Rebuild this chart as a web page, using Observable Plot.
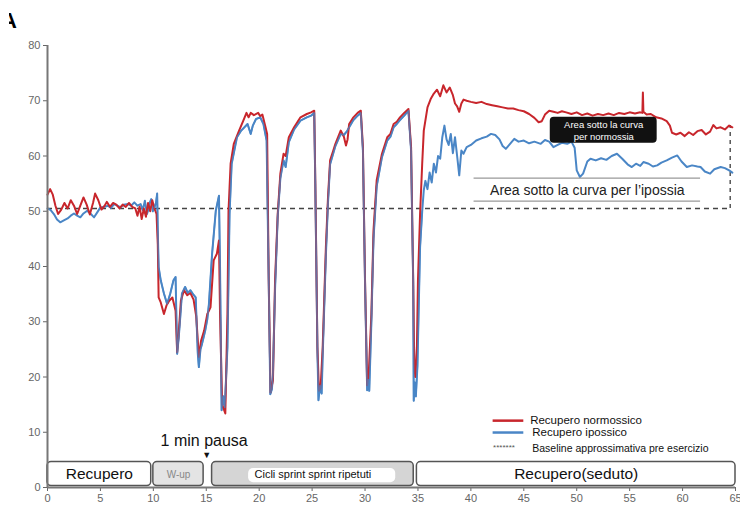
<!DOCTYPE html>
<html>
<head>
<meta charset="utf-8">
<script src="https://cdn.jsdelivr.net/npm/d3@7"></script>
<script src="https://cdn.jsdelivr.net/npm/@observablehq/plot@0.6"></script>
<style>
  html, body { margin: 0; padding: 0; background: #fff; overflow: hidden; }
  #wrap { position: relative; width: 740px; height: 508px; }
  #clip { position: absolute; left: 9px; top: 10px; width: 14px; height: 24px; overflow: hidden; z-index: 2; }
  #letter { position: absolute; left: -8px; top: 0px; font: bold 22px "Liberation Sans", Arial, sans-serif; color: #000; line-height: 22px; }
</style>
</head>
<body>
<div id="wrap"><div id="clip"><div id="letter">A</div></div></div>
<script>
// ---- data: [minute, value] ----
const normossico = [
  [0,53.0],[0.25,54.0],[0.5,53.0],[0.75,51.0],[1.0,49.5],[1.3,50.3],[1.6,51.5],[1.9,50.5],[2.2,52.0],[2.5,51.0],
  [2.8,49.5],[3.1,51.0],[3.4,52.5],[3.7,51.2],[4.0,49.4],[4.3,51.5],[4.5,53.2],[4.8,52.0],[5.1,50.3],[5.4,51.0],
  [5.6,51.7],[5.9,50.8],[6.2,51.5],[6.5,51.2],[6.8,50.5],[7.1,51.2],[7.4,50.8],[7.7,51.5],[8.0,50.8],[8.3,50.5],
  [8.5,49.2],[8.7,50.8],[8.9,48.6],[9.1,50.5],[9.3,49.0],[9.5,51.5],[9.7,50.0],[9.9,52.0],[10.1,50.5],[10.3,49.5],
  [10.42,44.0],[10.5,34.4],[10.7,33.5],[11.0,31.4],[11.25,33.0],[11.5,33.8],[11.8,34.4],[12.1,32.0],[12.25,24.5],[12.4,28.0],
  [12.6,33.8],[12.9,35.7],[13.2,34.8],[13.5,35.2],[13.8,34.0],[14.05,31.0],[14.3,23.6],[14.5,26.5],[14.8,28.4],[15.1,31.4],
  [15.4,32.6],[15.7,41.1],[16.0,42.3],[16.2,44.7],[16.3,31.4],[16.5,15.0],[16.8,13.4],[17.0,31.4],[17.1,50.0],[17.3,58.6],
  [17.6,62.2],[18.1,64.6],[18.5,66.4],[18.8,67.8],[19.0,67.0],[19.2,67.8],[19.5,67.4],[19.9,67.8],[20.1,67.2],[20.3,67.5],
  [20.6,65.2],[20.75,64.0],[20.9,37.5],[21.07,17.2],[21.3,19.4],[21.5,37.5],[21.75,49.5],[22.0,56.8],[22.3,60.4],[22.5,60.0],
  [22.8,63.4],[23.3,65.2],[23.9,67.0],[24.5,67.6],[24.9,67.9],[25.2,68.2],[25.3,55.6],[25.5,25.4],[25.65,17.5],[25.8,18.0],
  [26.0,25.4],[26.3,43.5],[26.5,52.5],[26.7,59.2],[27.0,61.0],[27.2,62.2],[27.7,64.6],[28.0,63.5],[28.2,61.9],[28.35,63.0],
  [28.5,65.8],[28.9,67.0],[29.3,67.8],[29.6,68.2],[29.8,61.6],[30.0,37.5],[30.2,18.5],[30.35,20.6],[30.6,31.4],[30.8,46.5],
  [31.1,55.6],[31.6,60.4],[32.1,63.4],[32.4,64.0],[32.7,65.8],[33.0,66.2],[33.3,67.0],[33.7,67.8],[34.1,68.5],[34.35,61.6],
  [34.55,37.5],[34.65,22.4],[34.75,20.0],[34.9,25.4],[35.0,37.5],[35.2,49.5],[35.4,58.6],[35.55,64.6],[35.9,68.8],[36.2,70.3],
  [36.5,71.3],[36.8,72.0],[37.1,70.8],[37.4,72.8],[37.7,71.5],[38.0,72.4],[38.3,71.0],[38.5,69.5],[38.7,69.0],[38.9,68.0],
  [39.1,69.5],[39.3,70.2],[39.6,70.0],[40.0,69.8],[40.5,69.6],[41.0,69.8],[41.5,69.4],[42.0,69.2],[42.5,69.0],[43.0,68.8],
  [43.5,68.6],[44.0,68.6],[44.5,68.3],[45.0,68.1],[45.5,67.6],[46.0,66.9],[46.4,66.1],[46.7,66.3],[47.0,67.5],[47.4,68.2],
  [47.8,68.0],[48.2,67.8],[48.6,68.1],[49.0,67.9],[49.5,67.6],[50.0,67.9],[50.5,67.4],[51.0,67.7],[51.5,67.3],[52.0,67.6],
  [52.5,67.4],[53.0,67.7],[53.5,67.4],[54.0,67.8],[54.5,67.6],[55.0,67.9],[55.5,67.7],[56.0,67.9],[56.2,67.8],[56.25,71.5],
  [56.3,68.0],[56.6,67.5],[57.0,67.6],[57.5,67.0],[58.0,66.8],[58.5,66.3],[58.8,65.5],[59.0,64.2],[59.4,63.9],[59.8,64.2],
  [60.2,63.6],[60.6,64.3],[61.0,63.8],[61.4,64.5],[61.8,64.7],[62.2,63.9],[62.6,64.4],[62.9,65.6],[63.2,65.0],[63.6,65.2],
  [64.0,64.8],[64.4,65.5],[64.7,65.2]
];
const ipossico = [
  [0,50.5],[0.3,50.2],[0.6,49.5],[0.9,48.5],[1.2,48.0],[1.5,48.3],[1.9,48.7],[2.2,49.2],[2.5,49.6],[2.8,49.2],
  [3.1,48.9],[3.4,49.6],[3.75,50.1],[4.1,49.5],[4.4,48.9],[4.7,49.8],[5.0,50.7],[5.4,50.8],[5.7,51.0],[6.0,50.6],
  [6.3,51.3],[6.6,51.0],[6.9,50.7],[7.2,51.2],[7.6,51.3],[7.9,51.0],[8.2,51.6],[8.5,51.0],[8.8,51.3],[9.0,50.2],
  [9.2,51.9],[9.4,49.5],[9.5,50.1],[9.65,51.5],[9.8,52.2],[9.95,50.0],[10.1,50.7],[10.25,51.5],[10.36,53.2],[10.42,46.5],
  [10.5,39.9],[10.7,37.5],[11.0,35.1],[11.3,33.2],[11.6,35.1],[11.9,37.5],[12.1,38.1],[12.25,24.2],[12.4,27.2],[12.55,31.0],
  [12.7,35.1],[13.0,36.3],[13.25,35.2],[13.5,35.7],[13.75,35.0],[14.0,34.4],[14.2,24.2],[14.3,21.8],[14.45,25.0],[14.6,26.0],
  [14.75,27.2],[14.9,28.4],[15.1,30.5],[15.25,33.2],[15.55,42.3],[15.9,50.1],[16.2,52.8],[16.3,40.0],[16.45,14.0],[16.6,16.5],
  [16.75,14.5],[17.0,25.4],[17.2,49.5],[17.4,58.6],[17.9,63.4],[18.3,64.6],[18.9,65.8],[19.2,64.0],[19.4,65.5],[19.7,66.7],
  [20.1,67.0],[20.4,65.8],[20.7,62.8],[20.9,37.5],[21.05,16.9],[21.2,17.8],[21.3,20.5],[21.5,36.0],[21.75,49.0],[22.0,56.0],
  [22.3,59.2],[22.5,58.0],[22.8,62.5],[23.3,64.8],[23.9,66.4],[24.5,67.0],[24.9,67.3],[25.2,67.8],[25.3,55.0],[25.5,25.0],
  [25.6,15.8],[25.75,18.5],[25.9,17.0],[26.0,24.0],[26.3,42.0],[26.5,51.5],[26.7,58.5],[27.0,60.5],[27.2,61.8],[27.7,64.0],
  [28.0,63.8],[28.3,64.5],[28.5,65.2],[28.9,66.5],[29.3,67.3],[29.6,67.8],[29.8,61.0],[30.0,37.0],[30.2,17.6],[30.3,19.5],
  [30.4,17.5],[30.6,30.0],[30.8,45.0],[31.1,54.5],[31.6,59.8],[32.1,62.8],[32.4,63.5],[32.7,65.2],[33.0,65.8],[33.3,66.5],
  [33.7,67.3],[34.1,68.2],[34.35,61.0],[34.55,37.0],[34.6,15.7],[34.7,19.0],[34.8,16.5],[34.95,22.0],[35.1,35.0],[35.2,43.5],
  [35.4,50.0],[35.55,53.8],[35.7,55.5],[35.9,54.0],[36.1,57.0],[36.3,55.2],[36.5,58.6],[36.7,57.0],[36.9,60.0],[37.1,59.5],
  [37.3,63.4],[37.5,65.5],[37.7,63.0],[37.9,62.0],[38.1,64.0],[38.3,60.5],[38.5,63.4],[38.7,60.0],[38.9,56.5],[39.1,61.0],
  [39.3,60.4],[39.6,61.6],[40.0,62.0],[40.5,62.8],[41.0,63.2],[41.5,63.5],[41.9,64.0],[42.3,63.8],[42.7,63.0],[43.0,61.8],
  [43.3,61.3],[43.7,62.2],[44.1,63.1],[44.5,62.6],[45.0,62.8],[45.5,62.3],[46.0,62.6],[46.6,62.2],[47.0,62.9],[47.4,62.6],
  [47.8,61.6],[48.2,62.0],[48.6,62.4],[49.1,62.2],[49.5,62.6],[49.8,61.5],[50.0,57.4],[50.3,56.2],[50.6,56.8],[51.0,59.0],
  [51.3,59.5],[51.8,59.2],[52.3,59.6],[52.8,59.3],[53.3,60.0],[53.8,60.4],[54.3,59.5],[54.8,58.5],[55.2,58.0],[55.6,58.6],
  [56.0,58.2],[56.3,58.9],[56.8,58.6],[57.2,58.1],[57.6,58.3],[58.0,58.8],[58.5,59.2],[59.0,59.7],[59.5,60.1],[59.9,59.0],
  [60.4,58.0],[60.9,58.3],[61.4,58.1],[61.7,58.0],[62.1,57.2],[62.6,56.8],[63.0,57.6],[63.6,58.0],[64.0,57.8],[64.4,57.4],
  [64.7,57.0]
];
const baselineValue = 50.5;
const baselineEnd = 64.5;
const baselineTopAtEnd = 65.5;

const phaseLabels = ["Recupero", "W-up", "Cicli sprint sprint ripetuti", "Recupero(seduto)"];
const phaseStart = [0, 10.0, 15.55, 34.9];
const phaseEnd = [9.8, 14.75, 34.6, 65];

const xTicks = [0,5,10,15,20,25,30,35,40,45,50,55,60,65];
const yTicks = [0,10,20,30,40,50,60,70,80];

const legendLabels = ["Recupero normossico", "Recupero ipossico", "Baseline approssimativa pre esercizio"];

// ---- build ----
const RED = "#c8262c", BLUE = "#4a86c6";
const rows = [
  ...normossico.map(([t, v]) => ({t, v, s: "n"})),
  ...ipossico.map(([t, v]) => ({t, v, s: "i"}))
];
const phases = phaseLabels.map((label, i) => ({label, x1: phaseStart[i], x2: phaseEnd[i]}));
const phaseFill = ["#ffffff", "#e4e4e4", "#d5d5d5", "#ffffff"];
const phaseFont = [15.5, 10, 11, 15.5];
const phaseColor = ["#111", "#888", "#111", "#111"];
const font = "'Liberation Sans', Arial, sans-serif";

const chart = Plot.plot({
  width: 740,
  height: 508,
  marginLeft: 47,
  marginRight: 5,
  marginTop: 45,
  marginBottom: 21,
  x: {domain: [0, 65], label: null},
  y: {domain: [0, 80], label: null},
  style: {fontFamily: font, background: "transparent", overflow: "visible"},
  marks: [
    Plot.axisX({ticks: xTicks, tickSize: 4, tickPadding: 3, fontSize: 11, color: "#666", label: null}),
    Plot.axisY({ticks: yTicks, tickSize: 4, tickPadding: 3, fontSize: 11, color: "#666", label: null}),
    // baseline
    Plot.ruleY([baselineValue], {x1: 0, x2: baselineEnd, stroke: "#444", strokeWidth: 1.5, strokeDasharray: "5,4"}),
    Plot.ruleX([baselineEnd], {y1: baselineValue, y2: baselineTopAtEnd, stroke: "#555", strokeWidth: 1.5, strokeDasharray: "4,4"}),
    // series
    Plot.line(rows.filter(d => d.s === "i"), {x: "t", y: "v", stroke: BLUE, strokeWidth: 2, curve: "linear"}),
    Plot.line(rows.filter(d => d.s === "n"), {x: "t", y: "v", stroke: RED, strokeWidth: 2, curve: "linear"}),
    Plot.line(rows.filter(d => d.s === "i" && d.t > 10 && d.t < 35.5), {x: "t", y: "v", stroke: BLUE, strokeWidth: 1.6, strokeOpacity: 0.75}),
    // phase boxes
    Plot.rect(phases, {x1: "x1", x2: "x2", y1: 0.25, y2: 4.6, fill: (d, i) => phaseFill[i], stroke: "#555", strokeWidth: 1.5, rx: 4}),
    Plot.rect([phases[2]], {x1: d => d.x1 + 3.45, x2: d => d.x2 - 1.7, y1: 0.85, y2: 3.45, fill: "white", rx: 5}),
    Plot.text(phases, {x: d => (d.x1 + d.x2) / 2, y: 2.35, text: "label", fontSize: (d, i) => phaseFont[i], fill: (d, i) => phaseColor[i]}),
    // axes lines
    Plot.ruleX([0], {y1: 0, y2: 80, stroke: "#777", strokeWidth: 2}),
    Plot.ruleY([0], {x1: 0, x2: 65, stroke: "#777", strokeWidth: 2}),
    // 1 min pausa
    Plot.text(["1 min pausa"], {x: 14.8, y: 8.5, text: d => d, fontSize: 16, fill: "#111"}),
    Plot.text(["▼"], {x: 15.05, y: 5.9, text: d => d, fontSize: 9, fill: "#111"}),
    // annotations
    Plot.rect([0], {x1: 47.5, x2: 57.6, y1: 62.3, y2: 67.0, fill: "#111", rx: 4}),
    Plot.text(["Area sotto la curva\nper normossia"], {x: 52.55, y: 64.6, text: d => d, fontSize: 9.5, fill: "white", lineHeight: 1.25}),
    Plot.ruleY([56.0, 51.85], {x1: 40.3, x2: 61.7, stroke: "#999", strokeWidth: 1.2}),
    Plot.text(["Area sotto la curva per l’ipossia"], {x: 51.0, y: 53.8, text: d => d, fontSize: 14, fill: "#222"}),
    // legend
    Plot.ruleY([12.1], {x1: 42.1, x2: 45.0, stroke: RED, strokeWidth: 2.5}),
    Plot.ruleY([9.95], {x1: 42.1, x2: 45.0, stroke: BLUE, strokeWidth: 2.5}),
    Plot.text(["*******"], {x: 42.1, y: 7.2, text: d => d, textAnchor: "start", fontSize: 8, fill: "#555"}),
    Plot.text([legendLabels[0]], {x: 45.6, y: 12.25, text: d => d, textAnchor: "start", fontSize: 11.5, fill: "#111"}),
    Plot.text([legendLabels[1]], {x: 45.8, y: 9.95, text: d => d, textAnchor: "start", fontSize: 11.5, fill: "#111"}),
    Plot.text([legendLabels[2]], {x: 45.8, y: 7.0, text: d => d, textAnchor: "start", fontSize: 10.5, fill: "#111"})
  ]
});
document.getElementById("wrap").appendChild(chart);
chart.style.position = "absolute";
chart.style.left = "0";
chart.style.top = "0";
</script>
</body>
</html>
